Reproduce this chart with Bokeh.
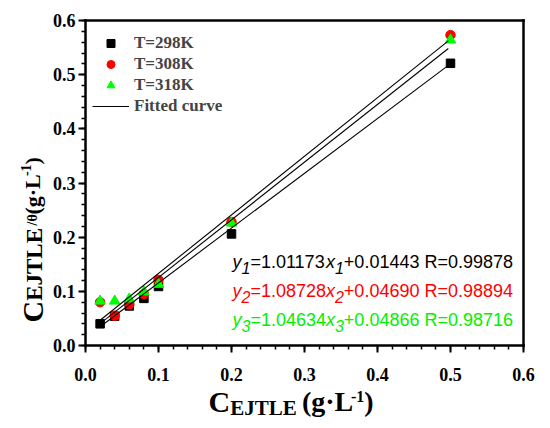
import numpy as np
from bokeh.plotting import figure
from bokeh.models import Range1d, FixedTicker, Label, Legend, LegendItem, LinearAxis
from bokeh.embed import file_html
from bokeh.resources import INLINE

# ---------------- data ----------------
conc = [0.02, 0.04, 0.06, 0.08, 0.10, 0.20, 0.50]
y298 = [0.040, 0.054, 0.073, 0.087, 0.109, 0.206, 0.521]
y308 = [0.080, 0.055, 0.076, 0.095, 0.121, 0.228, 0.573]
y318 = [0.082, 0.082, 0.086, 0.099, 0.113, 0.226, 0.564]
series_labels = ["T=298K", "T=308K", "T=318K"]
fit_label = "Fitted curve"
# fitted straight lines as drawn (slope, intercept) and their x span
fit_slopes = [1.01173, 1.081, 1.065]
fit_intercepts = [0.01443, 0.025, 0.019]
fit_span = [0.02, 0.497]
equations = [
    ("1", "1.01173", "0.01443", "0.99878"),
    ("2", "1.08728", "0.04690", "0.98894"),
    ("3", "1.04634", "0.04866", "0.98716"),
]
eq_colors = ["#000000", "#ff0000", "#00f000"]
ticks = [0.0, 0.1, 0.2, 0.3, 0.4, 0.5, 0.6]
tick_labels = ["0.0", "0.1", "0.2", "0.3", "0.4", "0.5", "0.6"]
axis_min, axis_max = 0.0, 0.6

# ---------------- geometry ----------------
W, H = 542, 420
FL, FR, FT, FB = 85, 523, 20, 345   # plotting box in canvas px
sx = (axis_max - axis_min) / (FR - FL)
sy = (axis_max - axis_min) / (FB - FT)
xr = Range1d(axis_min - FL * sx, axis_max + (W - FR) * sx)
yr = Range1d(axis_min - (H - FB) * sy, axis_max + FT * sy)

p = figure(width=W, height=H, output_backend="svg", toolbar_location=None,
           x_range=xr, y_range=yr, x_axis_location=None, y_axis_location=None,
           min_border=0)
p.background_fill_color = "white"
p.border_fill_color = "white"
p.grid.visible = False
p.outline_line_color = None

minor = [round(v, 2) for v in np.arange(axis_min, axis_max + 1e-9, 0.02)]

def make_axis(place, fixed, with_ticks):
    ax = LinearAxis(fixed_location=fixed, bounds=(axis_min, axis_max))
    ax.axis_line_width = 2.5
    ax.axis_line_cap = "square"
    if with_ticks:
        ax.ticker = FixedTicker(ticks=ticks, minor_ticks=minor)
        ax.major_label_overrides = {t: s for t, s in zip(ticks, tick_labels)}
        ax.major_tick_in = 0
        ax.major_tick_out = 7
        ax.minor_tick_in = 0
        ax.minor_tick_out = 4
        ax.major_tick_line_width = 2
        ax.minor_tick_line_width = 1.5
        ax.major_label_text_font = "Liberation Serif"
        ax.major_label_text_font_style = "bold"
        ax.major_label_text_font_size = "18px"
        ax.major_label_text_color = "black"
    else:
        ax.ticker = FixedTicker(ticks=[], minor_ticks=[])
        ax.major_tick_line_color = None
        ax.minor_tick_line_color = None
        ax.major_label_text_font_size = "0px"
    p.add_layout(ax, place)
    return ax

xa = make_axis("below", axis_min, True)
ya = make_axis("left", axis_min, True)
make_axis("above", axis_max, False)
make_axis("right", axis_max, False)
xa.major_label_standoff = 15
ya.major_label_standoff = 3

# ---------------- markers ----------------
r1 = p.scatter(conc, y298, marker="square", size=8.5, color="black")
r2 = p.scatter(conc, y308, marker="circle", size=9.5, color="#ff0000")
r3 = p.scatter(conc, y318, marker="triangle", size=10.5, color="#00ff00")

# ---------------- fitted lines ----------------
line_rs = []
for k, b in zip(fit_slopes, fit_intercepts):
    xs = np.array(fit_span)
    line_rs.append(p.line(xs, k * xs + b, line_color="black", line_width=1.1))

legend = Legend(items=[LegendItem(label=series_labels[0], renderers=[r1]),
                       LegendItem(label=series_labels[1], renderers=[r2]),
                       LegendItem(label=series_labels[2], renderers=[r3]),
                       LegendItem(label=fit_label, renderers=[line_rs[0]])],
                location=(92, 304), padding=5, margin=0, spacing=1,
                glyph_width=37, glyph_height=20, label_height=20,
                label_standoff=5, border_line_color=None,
                background_fill_alpha=0,
                label_text_font="Liberation Serif",
                label_text_font_style="bold",
                label_text_font_size="17px")
p.add_layout(legend)

# ---------------- rich text helpers (canvas px -> data) ----------------
def X(px):
    return xr.start + px * sx

def Y(py):
    return yr.start + (H - py) * sy

SERIF_B = {"C": 722, "E": 667, "J": 500, "T": 667, "L": 667, "g": 500,
           "·": 250, "(": 333, ")": 333, "-": 333, "1": 500, "/": 278,
           " ": 250, "θ": 500}
SANS = {"0": 556, "1": 556, "2": 556, "3": 556, "4": 556, "5": 556, "6": 556,
        "7": 556, "8": 556, "9": 556, ".": 278, "=": 584, "+": 584, " ": 278,
        "R": 722, "x": 500, "y": 500}
MID = 0.34   # distance from baseline to the middle of the text box, in em

def width(text, size, table):
    return sum(table.get(c, 556) for c in text) * size / 1000.0

def runs(items, start, base, rotated=False):
    pos = start
    for text, size, font, style, color, shift, table in items:
        w = width(text, size, table)
        off = base + shift - MID * size
        if not rotated:
            lab = Label(x=X(pos), y=Y(off), text=text)
            pos += w
        else:
            lab = Label(x=X(off), y=Y(pos), text=text, angle=np.pi / 2)
            pos -= w
        lab.text_font = font
        lab.text_font_size = f"{size}px"
        lab.text_font_style = style
        lab.text_color = color
        lab.text_align = "left"
        lab.text_baseline = "middle"
        p.add_layout(lab)

SF = "Liberation Serif"
SS = "Liberation Sans"
# x-axis title
runs([("C", 30, SF, "bold", "black", 0, SERIF_B),
      ("EJTLE", 21, SF, "bold", "black", 4, SERIF_B),
      (" ", 21, SF, "bold", "black", 4, SERIF_B),
      ("(g·L", 28, SF, "bold", "black", 0, SERIF_B),
      ("-1", 16, SF, "bold", "black", -10, SERIF_B),
      (")", 28, SF, "bold", "black", 0, SERIF_B)], 208, 411)
# y-axis title (rotated)
runs([("C", 30, SF, "bold", "black", 0, SERIF_B),
      ("EJTLE", 23, SF, "bold", "black", 0, SERIF_B),
      (" ", 10, SF, "bold", "black", 0, SERIF_B),
      ("/θ", 14, SF, "bold", "black", -5, SERIF_B),
      ("(g·L", 22, SF, "bold", "black", -3, SERIF_B),
      ("-1", 14, SF, "bold", "black", -12, SERIF_B),
      (")", 22, SF, "bold", "black", -3, SERIF_B)], 322, 42, rotated=True)

# equations
for i, (n, k, b, r) in enumerate(equations):
    c = eq_colors[i]
    runs([("y", 18, SS, "italic", c, 0, SANS),
          (n, 16, SS, "italic", c, 5, SANS),
          ("=" + k, 18, SS, "normal", c, 0, SANS),
          ("x", 18, SS, "italic", c, 0, SANS),
          (n, 16, SS, "italic", c, 5, SANS),
          ("+" + b + " R=" + r, 18, SS, "normal", c, 0, SANS)],
         232, 268 + 29 * i)

open("out.html", "w").write(file_html(p, INLINE))
